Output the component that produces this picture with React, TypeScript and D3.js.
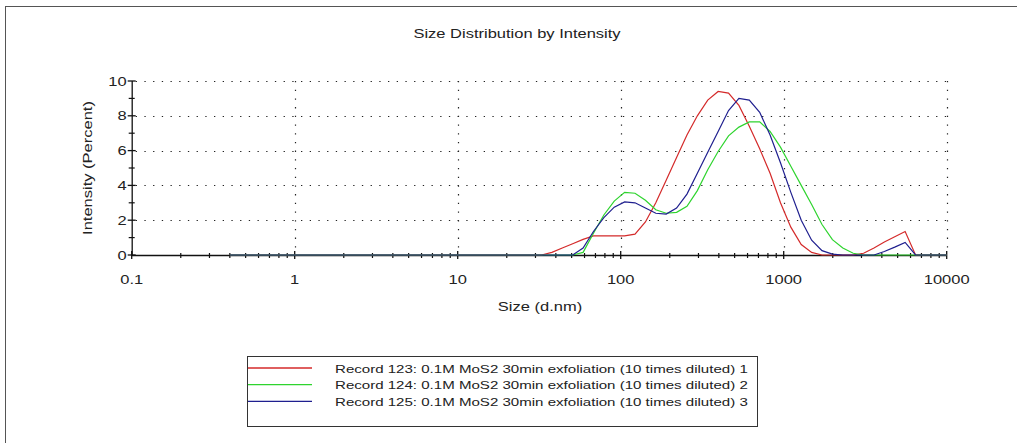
import React from "react";
import * as d3 from "d3";

// Size bins (d.nm), 70 log-spaced classes
const sizes: number[] = [
  0.4, 0.4632, 0.5365, 0.6213, 0.7195, 0.8332, 0.9649, 1.117, 1.294, 1.499,
  1.736, 2.01, 2.328, 2.696, 3.122, 3.615, 4.187, 4.849, 5.615, 6.503,
  7.531, 8.721, 10.1, 11.7, 13.54, 15.69, 18.17, 21.04, 24.36, 28.21,
  32.67, 37.84, 43.82, 50.75, 58.77, 68.06, 78.82, 91.28, 105.7, 122.4,
  141.8, 164.2, 190.1, 220.2, 255.0, 295.3, 342.0, 396.1, 458.7, 531.2,
  615.1, 712.4, 825.0, 955.4, 1106, 1281, 1484, 1718, 1990, 2305,
  2669, 3091, 3580, 4145, 4801, 5560, 6439, 7456, 8635, 10000,
];

// Intensity (%) per bin
const record123: number[] = [
  0, 0, 0, 0, 0, 0, 0, 0, 0, 0,
  0, 0, 0, 0, 0, 0, 0, 0, 0, 0,
  0, 0, 0, 0, 0, 0, 0, 0, 0, 0,
  0, 0.15, 0.4, 0.65, 0.9, 1.1, 1.1, 1.1, 1.1, 1.2,
  1.9, 3.0, 4.3, 5.6, 6.9, 8.0, 8.9, 9.4, 9.3, 8.6,
  7.4, 6.1, 4.7, 3.0, 1.6, 0.6, 0.15, 0, 0, 0,
  0, 0.1, 0.4, 0.75, 1.05, 1.35, 0, 0, 0, 0,
];
const record124: number[] = [
  0, 0, 0, 0, 0, 0, 0, 0, 0, 0,
  0, 0, 0, 0, 0, 0, 0, 0, 0, 0,
  0, 0, 0, 0, 0, 0, 0, 0, 0, 0,
  0, 0, 0, 0, 0.15, 1.25, 2.3, 3.1, 3.6, 3.55,
  3.15, 2.6, 2.4, 2.45, 2.8, 3.7, 4.9, 5.95, 6.85, 7.35,
  7.65, 7.65, 7.1, 6.2, 5.1, 4.0, 2.9, 1.75, 0.88, 0.4,
  0.1, 0, 0, 0, 0, 0, 0, 0, 0, 0,
];
const record125: number[] = [
  0, 0, 0, 0, 0, 0, 0, 0, 0, 0,
  0, 0, 0, 0, 0, 0, 0, 0, 0, 0,
  0, 0, 0, 0, 0, 0, 0, 0, 0, 0,
  0, 0, 0, 0, 0.4, 1.35, 2.15, 2.75, 3.05, 3.0,
  2.7, 2.4, 2.35, 2.7, 3.5, 4.7, 5.9, 7.1, 8.3, 9.0,
  8.9, 8.2, 6.9, 5.3, 3.6, 2.0, 0.85, 0.25, 0.05, 0,
  0, 0, 0, 0.2, 0.45, 0.72, 0, 0, 0, 0,
];

const seriesNames: string[] = [
  "Record 123: 0.1M MoS2 30min exfoliation (10 times diluted) 1",
  "Record 124: 0.1M MoS2 30min exfoliation (10 times diluted) 2",
  "Record 125: 0.1M MoS2 30min exfoliation (10 times diluted) 3",
];
const seriesColors: string[] = ["#d42a2a", "#2ed42e", "#1f1f8f"];
const seriesValues: number[][] = [record123, record124, record125];

const xTickValues: number[] = [0.1, 1, 10, 100, 1000, 10000];
const xTickLabels: string[] = ["0.1", "1", "10", "100", "1000", "10000"];
const yTickValues: number[] = [0, 2, 4, 6, 8, 10];

const FONT = "'Liberation Sans', Arial, sans-serif";
const STRETCH = 1.32;

// Text drawn with a slightly widened face, scaled along its baseline
function WideText(props: {
  x: number;
  y: number;
  size: number;
  anchor?: "start" | "middle" | "end";
  rotate?: number;
  sx?: number;
  children: React.ReactNode;
}) {
  const { x, y, size, anchor = "start", rotate = 0, sx = STRETCH, children } = props;
  return (
    <text
      transform={`translate(${x},${y}) rotate(${rotate}) scale(${sx},1)`}
      fontSize={size}
      textAnchor={anchor}
      fill="#222"
    >
      {children}
    </text>
  );
}

export default function App() {
  const left = 131.7;
  const right = 946.7;
  const top = 81;
  const bottom = 255;

  const x = d3.scaleLog().domain([0.1, 10000]).range([left, right]);
  const y = d3.scaleLinear().domain([0, 10]).range([bottom, top]);

  const line = d3
    .line<[number, number]>()
    .x((d) => x(d[0]))
    .y((d) => y(d[1]));

  // minor x ticks: 2..9 within each decade
  const minorX: number[] = [];
  for (let e = -1; e < 4; e++) {
    for (let m = 2; m <= 9; m++) minorX.push(m * Math.pow(10, e));
  }
  const minorY = [1, 3, 5, 7, 9];

  const dot = "1.3 7.4";

  return (
    <svg
      width={1017}
      height={443}
      style={{ position: "absolute", left: 0, top: 0, background: "#fff" }}
      fontFamily={FONT}
    >
      <rect x={0} y={0} width={1017} height={443} fill="#fff" />
      {/* outer frame */}
      <line x1={5.5} y1={6} x2={5.5} y2={443} stroke="#555" strokeWidth={1} />
      <line x1={5} y1={6.5} x2={1017} y2={6.5} stroke="#555" strokeWidth={1} />

      <WideText x={517} y={38} size={12.5} anchor="middle">
        Size Distribution by Intensity
      </WideText>

      {/* grid */}
      {yTickValues
        .filter((v) => v > 0)
        .map((v) => (
          <line
            key={"gy" + v}
            x1={left + 4}
            x2={right}
            y1={Math.round(y(v)) + 0.5}
            y2={Math.round(y(v)) + 0.5}
            stroke="#222"
            strokeWidth={1.2}
            strokeDasharray={dot}
          />
        ))}
      {xTickValues
        .filter((v) => v > 0.1)
        .map((v) => (
          <line
            key={"gx" + v}
            x1={Math.round(x(v)) + 0.5}
            x2={Math.round(x(v)) + 0.5}
            y1={top}
            y2={bottom - 4}
            stroke="#222"
            strokeWidth={1.2}
            strokeDasharray={dot}
          />
        ))}

      {/* axes */}
      <line x1={left} x2={right} y1={bottom + 0.5} y2={bottom + 0.5} stroke="#111" strokeWidth={1.3} />
      <line x1={left + 0.5} x2={left + 0.5} y1={top} y2={bottom} stroke="#111" strokeWidth={1.3} />

      {/* x ticks */}
      {xTickValues.map((v) => (
        <line
          key={"xt" + v}
          x1={x(v)}
          x2={x(v)}
          y1={bottom - 4}
          y2={bottom + 4}
          stroke="#111"
          strokeWidth={1.3}
        />
      ))}
      {minorX.map((v) => (
        <line
          key={"xm" + v}
          x1={x(v)}
          x2={x(v)}
          y1={bottom - 2}
          y2={bottom + 3}
          stroke="#111"
          strokeWidth={1.2}
        />
      ))}
      {xTickValues.map((v, i) => (
        <WideText key={"xl" + v} x={x(v)} y={bottom + 29} size={12.5} anchor="middle">
          {xTickLabels[i]}
        </WideText>
      ))}

      {/* y ticks */}
      {yTickValues.map((v) => (
        <line
          key={"yt" + v}
          x1={left - 4}
          x2={left + 4}
          y1={y(v)}
          y2={y(v)}
          stroke="#111"
          strokeWidth={1.3}
        />
      ))}
      {minorY.map((v) => (
        <line
          key={"ym" + v}
          x1={left - 3}
          x2={left + 3}
          y1={y(v)}
          y2={y(v)}
          stroke="#111"
          strokeWidth={1.2}
        />
      ))}
      {yTickValues.map((v) => (
        <WideText key={"yl" + v} x={left - 5} y={y(v) + 4.5} size={12.5} anchor="end">
          {v}
        </WideText>
      ))}

      <WideText x={540} y={311} size={12.5} anchor="middle">
        Size (d.nm)
      </WideText>
      <WideText x={92} y={(top + bottom) / 2} size={12.5} anchor="middle" rotate={-90}>
        Intensity (Percent)
      </WideText>

      {/* data */}
      {seriesValues.map((vals, i) => (
        <path
          key={"s" + i}
          d={line(sizes.map((s, j) => [s, vals[j]] as [number, number])) || ""}
          fill="none"
          stroke={seriesColors[i]}
          strokeWidth={1.2}
        />
      ))}

      {/* legend */}
      <rect x={247.5} y={356.5} width={510} height={70} fill="#fff" stroke="#333" strokeWidth={1} />
      {seriesNames.map((name, i) => (
        <g key={"lg" + i}>
          <line
            x1={248}
            x2={312}
            y1={368 + i * 16.7}
            y2={368 + i * 16.7}
            stroke={seriesColors[i]}
            strokeWidth={1.3}
          />
          <WideText x={335} y={372.5 + i * 16.7} size={11.6} sx={1.3}>
            {name}
          </WideText>
        </g>
      ))}
    </svg>
  );
}
